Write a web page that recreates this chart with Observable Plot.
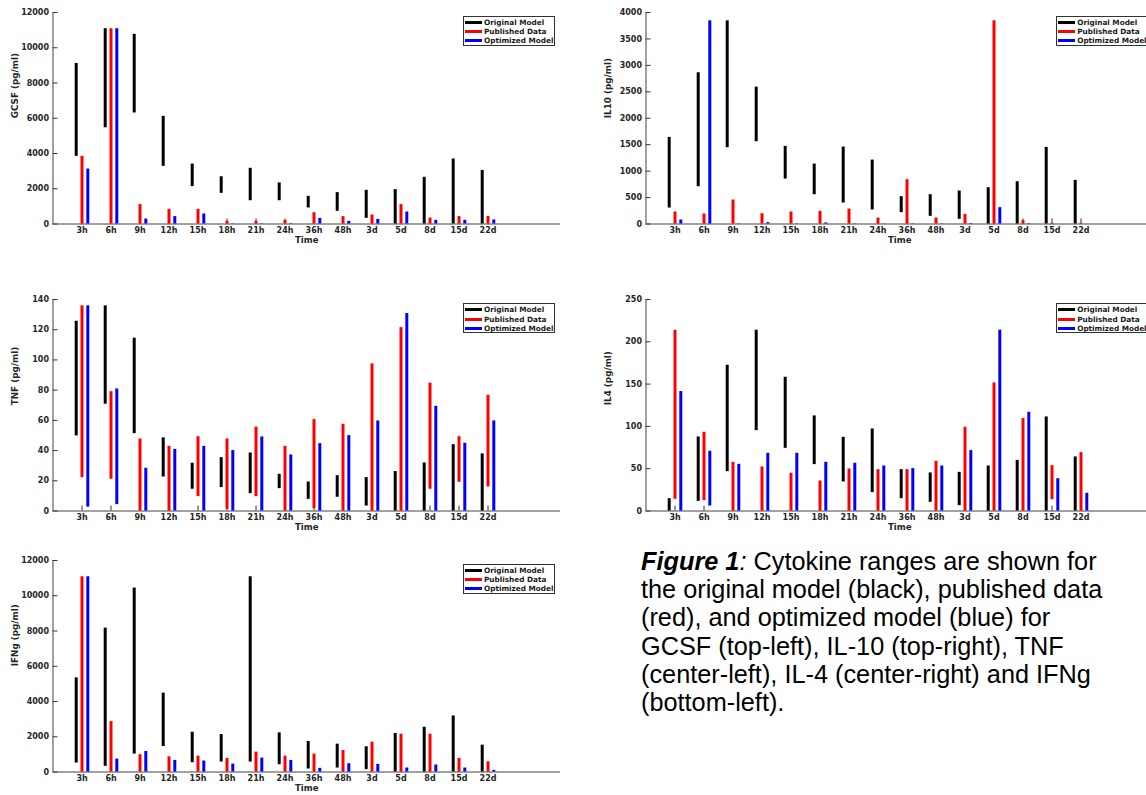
<!DOCTYPE html>
<html>
<head>
<meta charset="utf-8">
<script src="https://cdn.jsdelivr.net/npm/d3@7"></script>
<script src="https://cdn.jsdelivr.net/npm/@observablehq/plot@0.6"></script>
<style>
  html, body { margin: 0; padding: 0; background: #fff; overflow: hidden; }
  #fig { position: relative; width: 1146px; height: 795px; overflow: hidden; background: #fff; }
  .panel { position: absolute; }
  .legend { position: absolute; box-sizing: border-box; width: 92px; height: 30px; border: 1px solid #333; background: #fff;
            font-family: "DejaVu Sans", sans-serif; font-weight: bold; font-size: 7.3px; color: #1a1a1a; padding: 1px 0 0 1px; }
  .legend .row { display: flex; align-items: center; height: 9.3px; white-space: nowrap; }
  .legend .sw { width: 17px; height: 3px; margin-right: 2px; flex: none; }
  .caption { position: absolute; left: 641px; top: 547px; width: 505px; font-family: "Liberation Sans", Arial, sans-serif;
             font-size: 25.3px; line-height: 28.2px; color: #000; white-space: nowrap; }
</style>
</head>
<body>
<div id="fig"></div>
<script>
// ---- categories & series ----
const times = ["3h","6h","9h","12h","15h","18h","21h","24h","36h","48h","3d","5d","8d","15d","22d"];
const series = ["Original Model", "Published Data", "Optimized Model"];
const seriesColors = ["#000000", "#ff0000", "#0000ff"];

// ---- values: [low, high] ranges per time point ----
const gcsfOriginal  = [[3840,9110],[5460,11080],[6300,10760],[3270,6110],[2120,3400],[1740,2680],[1320,3160],[1320,2330],[910,1570],[720,1780],[320,1910],[0,1950],[0,2650],[0,3690],[0,3040]];
const gcsfPublished = [[0,3840],[0,11080],[0,1100],[0,830],[0,830],[0,150],[0,150],[0,200],[0,640],[0,420],[0,510],[0,1100],[0,340],[0,420],[0,430]];
const gcsfOptimized = [[0,3120],[0,11080],[0,280],[0,420],[0,570],[0,15],[0,15],[0,20],[0,320],[0,150],[0,260],[0,680],[0,210],[0,210],[0,230]];

const il10Original  = [[302,1638],[705,2860],[1443,3843],[1556,2589],[850,1468],[554,1134],[397,1455],[265,1209],[214,517],[145,554],[88,624],[0,687],[0,800],[0,1449],[0,825]];
const il10Published = [[0,227],[0,189],[0,454],[0,195],[0,227],[0,239],[0,283],[0,113],[0,838],[0,113],[0,183],[0,3843],[0,63],[0,15],[0,15]];
const il10Optimized = [[0,76],[0,3843],[0,5],[0,25],[0,5],[0,20],[0,5],[0,5],[0,5],[0,5],[0,10],[0,309],[0,8],[0,0],[0,0]];

const tnfOriginal  = [[49.7,125.6],[70.7,135.8],[51.2,114.4],[22.5,48.4],[14.4,31.6],[15.5,35.3],[11.5,38.4],[14.8,24.3],[7.7,19.2],[9.1,23.4],[3.3,22.1],[0,26.1],[0,31.8],[0,43.9],[0,37.8]];
const tnfPublished = [[22.1,135.8],[21,79],[0,47.7],[0,42.8],[9.5,49.2],[1.1,47.7],[9.5,55.6],[0,42.8],[1.5,60.5],[0,57.4],[0,97.4],[0,121.4],[14.4,84.6],[19,49.2],[15.9,76.6]];
const tnfOptimized = [[2.6,135.8],[4.2,80.8],[0,28.3],[0,40.8],[0,42.8],[0,40],[0,49],[0,37.1],[0,44.6],[0,49.9],[0,59.6],[0,130.7],[0,69.3],[0,44.8],[0,59.6]];

const il4Original  = [[0,14.6],[11.4,87.5],[46.5,172.3],[95,213.7],[74.1,158.1],[54.8,112.4],[34.3,87.1],[21.7,97],[14.6,48.9],[10.3,45],[6.3,45.7],[0,53.2],[0,59.9],[0,111.2],[0,63.9]];
const il4Published = [[13.8,213.7],[12.2,93.1],[0,57.6],[0,52],[0,44.6],[0,35.5],[0,49.7],[0,48.9],[0,48.9],[0,58.8],[0,99],[0,151.4],[0,109.2],[13.4,53.6],[0,69]];
const il4Optimized = [[0,141.2],[5.9,70.6],[0,55.2],[0,68.2],[0,68.2],[0,57.6],[0,56.4],[0,53.2],[0,50.1],[0,53.2],[0,71.4],[0,213.7],[0,116.7],[0,38.2],[0,20.9]];

const ifngOriginal  = [[508,5341],[320,8163],[1016,10438],[1448,4476],[527,2257],[564,2125],[564,11078],[414,2219],[169,1730],[226,1580],[132,1429],[0,2182],[0,2539],[0,3179],[0,1524]];
const ifngPublished = [[0,11078],[0,2859],[0,978],[0,865],[0,903],[0,771],[0,1128],[0,903],[0,1016],[0,1223],[0,1693],[0,2144],[0,2144],[0,771],[0,583]];
const ifngOptimized = [[0,11078],[0,733],[0,1166],[0,658],[0,621],[0,451],[0,790],[0,658],[0,207],[0,470],[0,433],[0,226],[0,395],[0,226],[0,94]];

// ---- axis tick values ----
const gcsfTicks = [0,2000,4000,6000,8000,10000,12000];
const il10Ticks = [0,500,1000,1500,2000,2500,3000,3500,4000];
const tnfTicks  = [0,20,40,60,80,100,120,140];
const il4Ticks  = [0,50,100,150,200,250];
const ifngTicks = [0,2000,4000,6000,8000,10000,12000];

const seriesOffset = {"Original Model": -0.2, "Published Data": 0, "Optimized Model": 0.2};
const tickPos = times.map((t, i) => i + 1);

function makeRows(orig, pub, opt) {
  const rows = [];
  [orig, pub, opt].forEach((arr, si) => {
    arr.forEach(([lo, hi], i) => rows.push({t: i + 1, time: times[i], s: series[si], lo, hi}));
  });
  return rows;
}

const fig = document.getElementById("fig");
const FONT = "DejaVu Sans";

function addPanel({label, ticks, yMax, orig, pub, opt, left, top}) {
  const data = makeRows(orig, pub, opt);
  const chart = Plot.plot({
    width: 570, height: 250,
    marginLeft: 52.5, marginRight: 10, marginTop: 12, marginBottom: 26.5,
    style: {fontFamily: FONT, fontWeight: "bold", fontSize: "8px", color: "#262626", background: "transparent", overflow: "visible"},
    x: {domain: [0, 17.5], ticks: tickPos, tickFormat: d => times[d - 1], tickSize: 0, tickPadding: 3.5, label: null},
    y: {domain: [0, yMax], ticks: ticks, tickFormat: d => String(d), tickSize: 0, tickPadding: 4, label: null},
    color: {domain: series, range: seriesColors},
    marks: [
      Plot.ruleX(tickPos, {x: d => d, y1: 0, y2: 0, insetTop: -5, stroke: "#333", strokeWidth: 1}),
      Plot.ruleY(ticks, {y: d => d, x1: 0, x2: 0, insetRight: -5, stroke: "#333", strokeWidth: 1}),
      Plot.ruleY([0], {stroke: "#444", strokeWidth: 1}),
      Plot.ruleX([0], {stroke: "#444", strokeWidth: 1}),
      Plot.ruleX(data, {x: d => d.t + seriesOffset[d.s], y1: "lo", y2: "hi", stroke: "s", strokeWidth: 3, strokeLinecap: "butt"}),
      Plot.text([label], {frameAnchor: "left", dx: -37.5, rotate: -90, fontSize: 8.8, fontWeight: "bold", fill: "#262626"}),
      Plot.text(["Time"], {frameAnchor: "bottom", dy: 18.5, fontSize: 8.6, fontWeight: "bold", fill: "#262626"})
    ]
  });
  chart.classList.add("panel");
  chart.style.left = left + "px";
  chart.style.top = top + "px";
  fig.appendChild(chart);

  // legend inside the plot area, top-right
  const lg = document.createElement("div");
  lg.className = "legend";
  lg.style.left = (left + 463) + "px";
  lg.style.top = (top + 12 + 3.8) + "px";
  series.forEach((s, i) => {
    const row = document.createElement("div");
    row.className = "row";
    const sw = document.createElement("span");
    sw.className = "sw";
    sw.style.background = seriesColors[i];
    row.appendChild(sw);
    row.appendChild(document.createTextNode(s));
    lg.appendChild(row);
  });
  fig.appendChild(lg);
}

addPanel({label: "GCSF (pg/ml)", ticks: gcsfTicks, yMax: 12000, orig: gcsfOriginal, pub: gcsfPublished, opt: gcsfOptimized, left: 0, top: -0.3});
addPanel({label: "IL10 (pg/ml)", ticks: il10Ticks, yMax: 4000, orig: il10Original, pub: il10Published, opt: il10Optimized, left: 593.2, top: -0.3});
addPanel({label: "TNF (pg/ml)", ticks: tnfTicks, yMax: 140, orig: tnfOriginal, pub: tnfPublished, opt: tnfOptimized, left: 0, top: 287.3});
addPanel({label: "IL4 (pg/ml)", ticks: il4Ticks, yMax: 250, orig: il4Original, pub: il4Published, opt: il4Optimized, left: 593.2, top: 287.3});
addPanel({label: "IFNg (pg/ml)", ticks: ifngTicks, yMax: 12000, orig: ifngOriginal, pub: ifngPublished, opt: ifngOptimized, left: 0, top: 547.7});

// caption
const cap = document.createElement("div");
cap.className = "caption";
cap.innerHTML = '<b><i>Figure 1</i></b><i>:</i> Cytokine ranges are shown for<br>' +
  'the original model (black), published data<br>' +
  '(red), and optimized model (blue) for<br>' +
  'GCSF (top-left), IL-10 (top-right), TNF<br>' +
  '(center-left), IL-4 (center-right) and IFNg<br>' +
  '(bottom-left).';
fig.appendChild(cap);
</script>
</body>
</html>
